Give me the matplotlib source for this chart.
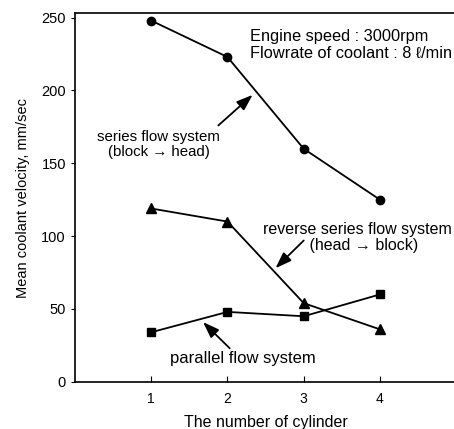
import matplotlib
matplotlib.use('Agg')
import matplotlib.pyplot as plt

plt.rcParams['font.family'] = ['Liberation Sans', 'DejaVu Sans']

# Datos
cilindros = [1, 2, 3, 4]
serie = [248, 223, 160, 125]
serie_inversa = [119, 110, 54, 36]
paralelo = [34, 48, 45, 60]

fig = plt.figure(figsize=(4.54, 4.29), dpi=100)
ax = fig.add_axes([0.165, 0.110, 0.84, 0.859])

ax.plot(cilindros, serie, color='black', lw=1.3, marker='o', ms=6)
ax.plot(cilindros, serie_inversa, color='black', lw=1.3, marker='^', ms=6.5)
ax.plot(cilindros, paralelo, color='black', lw=1.3, marker='s', ms=6)

ax.set_xlim(0, 5)
ax.set_ylim(0, 253)
ax.set_xticks(cilindros)
ax.set_yticks([0, 50, 100, 150, 200, 250])
ax.tick_params(axis='x', direction='in', length=4, labelsize=10, pad=7)
ax.tick_params(axis='y', direction='out', length=3, labelsize=10.5)
ax.spines['right'].set_visible(False)
for s in ['left', 'bottom', 'top']:
    ax.spines[s].set_linewidth(1.2)

ax.set_xlabel('The number of cylinder', fontsize=11.5, labelpad=7)
ax.set_ylabel('Mean coolant velocity, mm/sec', fontsize=10.5, labelpad=8)

ax.text(2.3, 242, 'Engine speed : 3000rpm\nFlowrate of coolant : 8 \u2113/min',
        fontsize=11.8, va='top', ha='left', linespacing=1.1)

flecha = dict(arrowstyle='-|>,head_length=0.7,head_width=0.25', color='black',
              lw=1.3, mutation_scale=14, shrinkA=0, shrinkB=0)
ax.text(1.1, 163, 'series flow system\n(block \u2192 head)', ha='center', va='center',
        fontsize=10.8, linespacing=1.1)
ax.annotate('', xy=(2.33, 197), xytext=(1.88, 176), arrowprops=flecha)
ax.text(3.7, 99, 'reverse series flow system\n   (head \u2192 block)', ha='center', va='center',
        fontsize=11.5, linespacing=1.1)
ax.annotate('', xy=(2.63, 78), xytext=(3.0, 97), arrowprops=flecha)
ax.text(2.2, 16, 'parallel flow system', ha='center', va='center', fontsize=12)
ax.annotate('', xy=(1.68, 41), xytext=(2.03, 23), arrowprops=flecha)

fig.savefig('out.png', dpi=100)
